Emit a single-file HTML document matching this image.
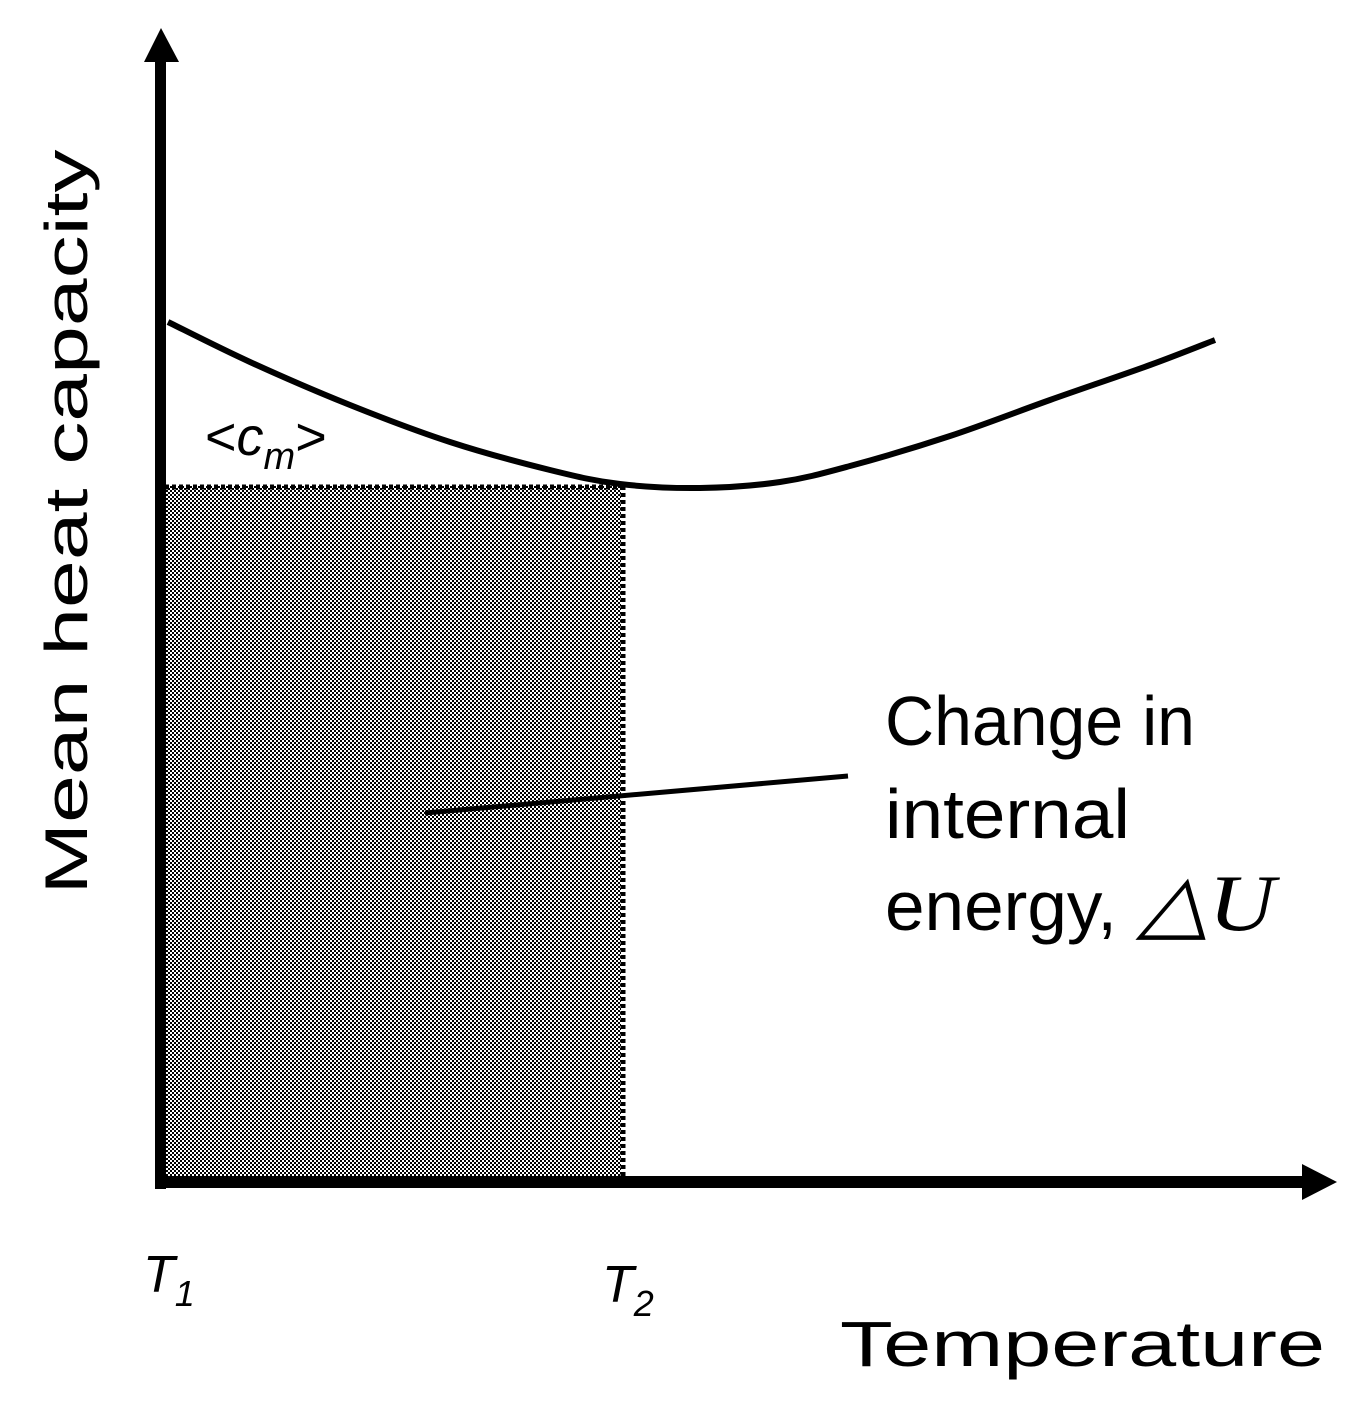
<!DOCTYPE html>
<html><head><meta charset="utf-8"><style>
html,body{margin:0;padding:0;background:#fff;}
svg{display:block;}
text{font-family:"Liberation Sans",sans-serif;fill:#000;}
</style></head><body>
<svg id="chart" width="1366" height="1412" viewBox="0 0 1366 1412">
<defs>
<pattern id="checker" width="4" height="4" patternUnits="userSpaceOnUse">
<rect width="4" height="4" fill="#fff"/>
<rect width="2" height="2" fill="#000"/>
<rect x="2" y="2" width="2" height="2" fill="#000"/>
</pattern>
</defs>
<g id="area"></g>
<g id="curve"></g>
<rect x="155" y="58" width="11" height="1131" fill="#000"/>
<polygon points="161,28 144,62 179,62" fill="#000"/>
<rect x="155" y="1176" width="1150" height="12" fill="#000"/>
<polygon points="1337,1182 1302,1164 1302,1200" fill="#000"/>
<line x1="425" y1="813" x2="848" y2="776" stroke="#000" stroke-width="5"/>
<text transform="translate(87,522) rotate(-90)" text-anchor="middle" font-size="60" textLength="745" lengthAdjust="spacingAndGlyphs">Mean heat capacity</text>
<text x="840" y="1366" font-size="64" textLength="485" lengthAdjust="spacingAndGlyphs">Temperature</text>
<text x="885" y="745" font-size="70" textLength="310" lengthAdjust="spacingAndGlyphs">Change in</text>
<text x="885" y="838" font-size="70" textLength="245" lengthAdjust="spacingAndGlyphs">internal</text>
<text x="885" y="930" font-size="70" textLength="232" lengthAdjust="spacingAndGlyphs">energy,</text>
<text x="1138" y="930" font-size="80" font-style="italic" style="font-family:'Liberation Serif',serif" textLength="137" lengthAdjust="spacingAndGlyphs">△U</text>
<text x="205" y="455" font-size="54">&lt;<tspan font-style="italic">c</tspan><tspan font-style="italic" font-size="38" dy="14">m</tspan><tspan dy="-14">&gt;</tspan></text>
<text x="143" y="1292" font-size="52" font-style="italic">T<tspan font-size="36" dy="14">1</tspan></text>
<text x="602" y="1302" font-size="52" font-style="italic">T<tspan font-size="36" dy="14">2</tspan></text>
</svg>
<script>
// data: temperature (arbitrary units) vs heat capacity (arbitrary units)
const temps = [0.3, 8.5, 18.5, 28.5, 38.5, 45.5, 53.5, 61.5, 68.5, 78.5, 88.5, 98.5, 105];
const capacity = [86, 82, 77.7, 74, 71.2, 69.8, 69.4, 70, 71.6, 74.6, 78.2, 81.7, 84.2];
const meanCap = [69.6];
const tRange = [0, 45.6];
function sx(t){return 165 + t*10;}
function sy(c){return 1182 - c*10;}
const NS='http://www.w3.org/2000/svg';
const area=document.getElementById('area');
const r=document.createElementNS(NS,'rect');
r.setAttribute('x',sx(tRange[0]));
r.setAttribute('y',sy(meanCap[0]));
r.setAttribute('width',sx(tRange[1])-sx(tRange[0]));
r.setAttribute('height',1180-sy(meanCap[0]));
r.setAttribute('fill','url(#checker)');


area.appendChild(r);
const d1=document.createElementNS(NS,'line');
d1.setAttribute('x1',sx(tRange[0]));d1.setAttribute('x2',sx(tRange[1])+4);
d1.setAttribute('y1',sy(meanCap[0])+1);d1.setAttribute('y2',sy(meanCap[0])+1);
d1.setAttribute('stroke','#000');d1.setAttribute('stroke-width','5');d1.setAttribute('stroke-dasharray','4 3');


area.appendChild(d1);
const d2=document.createElementNS(NS,'line');
d2.setAttribute('x1',sx(tRange[1])+2);d2.setAttribute('x2',sx(tRange[1])+2);
d2.setAttribute('y1',sy(meanCap[0]));d2.setAttribute('y2',1178);
d2.setAttribute('stroke','#000');d2.setAttribute('stroke-width','5');d2.setAttribute('stroke-dasharray','4 3');


area.appendChild(d2);
// smooth curve through points (Catmull-Rom)
const pts=temps.map((t,i)=>[sx(t),sy(capacity[i])]);
let d='M'+pts[0][0]+','+pts[0][1];
for(let i=0;i<pts.length-1;i++){
 const p0=pts[i-1]||pts[i],p1=pts[i],p2=pts[i+1],p3=pts[i+2]||p2;
 const c1=[p1[0]+(p2[0]-p0[0])/6,p1[1]+(p2[1]-p0[1])/6];
 const c2=[p2[0]-(p3[0]-p1[0])/6,p2[1]-(p3[1]-p1[1])/6];
 d+=' C'+c1+' '+c2+' '+p2;
}
const path=document.createElementNS(NS,'path');
path.setAttribute('d',d);
path.setAttribute('fill','none');path.setAttribute('stroke','#000');path.setAttribute('stroke-width','6');


document.getElementById('curve').appendChild(path);
</script>
</body></html>
